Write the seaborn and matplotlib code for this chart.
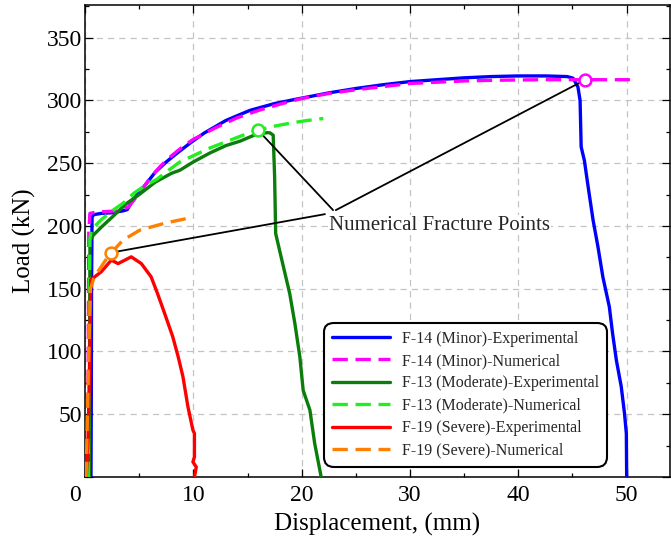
import matplotlib
matplotlib.use("Agg")
import matplotlib.pyplot as plt
import seaborn as sns
from matplotlib.ticker import MultipleLocator, FixedLocator
from matplotlib.transforms import ScaledTranslation

# ---- load-displacement curves (displacement in mm, load in kN) ----
f14_exp_x = [0.55, 0.58, 0.6, 0.65, 0.8, 1.5, 2.5, 3.5, 3.9, 4.4, 5.5, 6.5, 7.5, 8.5, 9.7,
             11, 13, 15.2, 17.5, 19.5, 22.5, 25, 27.5, 30, 32.5, 35, 37.5, 40, 42.5, 44.5,
             45.05, 45.5, 45.7, 45.8, 46.1, 46.4, 46.9, 47.35, 47.8, 48.4, 48.7, 49.05,
             49.5, 49.8, 49.97, 50.0]
f14_exp_y = [0, 60, 150, 207, 209, 210, 210.5, 212, 213, 220.5, 232, 243, 251, 258, 266,
             274, 284, 292, 297.5, 301, 306, 309.5, 312.5, 315, 316.5, 318, 319, 319.5,
             319.5, 319, 317.7, 310.8, 300, 263, 252, 233.8, 204.6, 183.4, 159.5, 135.6,
             114.4, 93, 72, 50.7, 34.7, 0]

f14_num_x = [0.25, 0.3, 0.35, 0.45, 1, 2, 3, 4, 5, 6, 7, 8, 9, 10, 12, 14, 16, 18, 20,
             22.5, 25, 27.5, 30, 32.5, 35, 37.5, 40, 42.5, 45, 46.2, 48, 50.3]
f14_num_y = [0, 100, 195, 210, 211, 211.5, 212, 215, 226, 238, 248, 256, 263, 269, 278,
             286, 292, 297, 301.5, 305.5, 308.5, 311, 313.5, 314.5, 315.5, 316, 316.3,
             316.5, 316.5, 316.5, 316.5, 316.5]

f13_exp_x = [0.4, 0.42, 0.46, 0.77, 1.5, 2.5, 3.85, 5, 6.5, 8, 8.76, 10, 11.5, 13, 14.3,
             15.8, 16.8, 17.07, 17.37, 17.5, 17.6, 18.1, 18.9, 19.37, 19.83, 20.14, 20.76,
             21.2, 21.8]
f13_exp_y = [0, 100, 188.7, 192.7, 199, 207, 218, 225, 235, 242, 244.4, 251, 258, 264,
             267.5, 273, 274.3, 274.2, 272.3, 240, 194, 175.4, 146, 122.4, 95.8, 69, 53.3,
             26.8, 0]

f13_num_x = [0.3, 0.35, 0.45, 0.6, 1.5, 2.5, 3.5, 4.5, 5.5, 6.6, 7.5, 8.76, 10, 11.5, 13,
             14.5, 15.95, 17.5, 19, 20.5, 22]
f13_num_y = [0, 100, 190, 197, 205, 212, 218, 226, 232, 237, 243, 251, 256, 262, 267,
             272, 276.3, 279.5, 282, 284, 285.6]

f19_exp_x = [0.12, 0.28, 0.43, 0.52, 0.9, 1.5, 2.43, 3.05, 4.27, 5.2, 6.1, 6.7, 7.35, 8.1,
             8.6, 9.04, 9.5, 9.96, 10.1, 10.1, 9.96, 10.27, 10.1]
f19_exp_y = [0, 32, 90, 157, 159.5, 163.5, 172.8, 170, 175.4, 170, 159.5, 146, 130.3,
             111.7, 95.8, 79.9, 56, 37.4, 34.7, 16, 12, 8, 0]

f19_num_x = [0.1, 0.3, 0.5, 0.8, 1.3, 2.0, 2.43, 3.5, 5.07, 7.5, 10]
f19_num_y = [0, 80, 150, 158, 165, 174, 178.6, 188.7, 196.7, 202.5, 207]

# numerical fracture points (F-14, F-13, F-19)
fracture_x = [46.2, 15.95, 2.43]
fracture_y = [316.5, 276.5, 178.8]
fracture_colors = ["#ff00ff", "#22ee22", "#ff8000"]

labels = ["F-14 (Minor)-Experimental", "F-14 (Minor)-Numerical",
          "F-13 (Moderate)-Experimental", "F-13 (Moderate)-Numerical",
          "F-19 (Severe)-Experimental", "F-19 (Severe)-Numerical"]
colors = ["#0000ff", "#ff00ff", "#0b7d0b", "#22ee22", "#ff0000", "#ff8000"]
dashed = [False, True, False, True, False, True]

x_ticks = [0, 10, 20, 30, 40, 50]
y_ticks = [50, 100, 150, 200, 250, 300, 350]

sns.set_theme(style="ticks")
plt.rcParams["font.family"] = ["Liberation Serif", "DejaVu Serif"]
plt.rcParams["axes.linewidth"] = 1.1

fig = plt.figure(figsize=(6.71, 5.39), dpi=100)
ax = fig.add_axes([0.1267, 0.1150, 0.8718, 0.8757])

curves = [(f14_exp_x, f14_exp_y), (f14_num_x, f14_num_y),
          (f13_exp_x, f13_exp_y), (f13_num_x, f13_num_y),
          (f19_exp_x, f19_exp_y), (f19_num_x, f19_num_y)]

for (xs, ys), lab, col, dsh in zip(curves, labels, colors, dashed):
    ls = (0, (4.6, 2.3)) if dsh else "-"
    sns.lineplot(x=xs, y=ys, ax=ax, sort=False, estimator=None, color=col,
                 lw=2.4, linestyle=ls, label=lab, zorder=3)

# leader lines from the label to each fracture point
line_origins = [(23.15, 212.6), (22.9, 212.6), (22.15, 209.4)]
for (ox, oy), fx, fy in zip(line_origins, fracture_x, fracture_y):
    ax.annotate("", xy=(fx, fy), xytext=(ox, oy),
                arrowprops=dict(arrowstyle="-", color="black", lw=1.3,
                                shrinkA=0, shrinkB=4.5), zorder=5)

for fx, fy, fc in zip(fracture_x, fracture_y, fracture_colors):
    ax.plot([fx], [fy], marker="o", ms=8.5, mfc="white", mec=fc, mew=1.8,
            ls="none", zorder=6)

ax.text(22.55, 200.6, "Numerical Fracture Points", fontsize=15, ha="left",
        va="center", zorder=6,
        bbox=dict(facecolor="white", edgecolor="none", pad=0.5))

ax.set_xlim(0, 54)
ax.set_ylim(0, 376)
ax.xaxis.set_major_locator(FixedLocator(x_ticks))
ax.xaxis.set_minor_locator(MultipleLocator(5))
ax.yaxis.set_major_locator(FixedLocator([0] + y_ticks))
ax.yaxis.set_minor_locator(MultipleLocator(25))
ax.set_yticklabels([""] + [str(v) for v in y_ticks])
ax.set_xticklabels([str(v) for v in x_ticks])

ax.grid(True, which="major", color="#c4c4c4", ls=(0, (5, 4)), lw=0.9, zorder=0)
ax.set_axisbelow(True)
for s in ax.spines.values():
    s.set_visible(True)
    s.set_color("black")
    s.set_linewidth(1.1)

ax.tick_params(which="both", direction="in", top=True, right=True, colors="black",
               width=0.9)
ax.tick_params(which="major", length=5.5)
ax.tick_params(which="minor", length=3)
ax.tick_params(axis="x", which="major", labelsize=17, pad=6)
ax.tick_params(axis="y", which="major", labelsize=17, pad=2)

# nudge the origin label of the x axis to the left
lbl0 = ax.xaxis.get_major_ticks()[0].label1
lbl0.set_transform(lbl0.get_transform() + ScaledTranslation(-10 / 100, 0, fig.dpi_scale_trans))

ax.set_xlabel("Displacement, (mm)", fontsize=18, labelpad=5, color="black")
ax.set_ylabel("Load (kN)", fontsize=18, labelpad=8, color="black")

leg = ax.legend(loc="lower right", bbox_to_anchor=(0.892, 0.022), fontsize=11.5,
                frameon=True, fancybox=True, framealpha=1, edgecolor="black",
                handlelength=3.6, handletextpad=0.75, labelspacing=0.4,
                borderpad=0.5, borderaxespad=0)
leg.get_frame().set_linewidth(1.5)
leg.get_frame().set_boxstyle("round", pad=0, rounding_size=0.6)
leg.set_zorder(7)

fig.savefig("out.png", dpi=100)
